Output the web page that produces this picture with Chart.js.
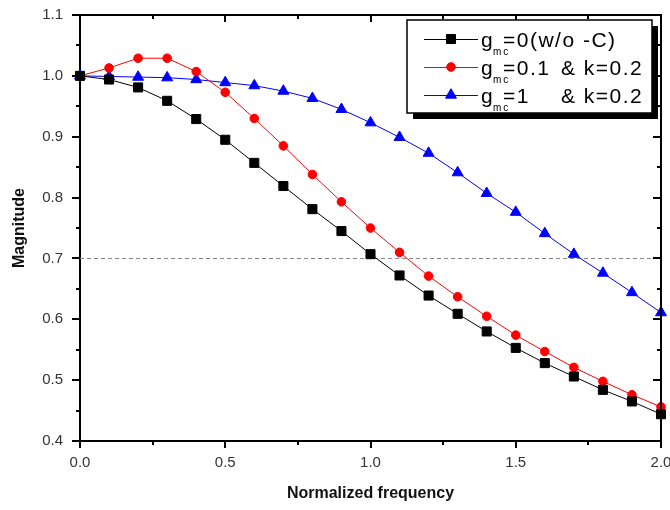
<!DOCTYPE html>
<html>
<head>
<meta charset="utf-8">
<script src="https://cdn.jsdelivr.net/npm/chart.js@4"></script>
<style>
  body { margin: 0; background: #fff; }
  #wrap { width: 670px; height: 510px; }
</style>
</head>
<body>
<div id="wrap"><canvas id="myChart" width="670" height="510"></canvas></div>
<script>
// data
var xValues = [0.0, 0.1, 0.2, 0.3, 0.4, 0.5, 0.6, 0.7, 0.8, 0.9, 1.0, 1.1, 1.2, 1.3, 1.4, 1.5, 1.6, 1.7, 1.8, 1.9, 2.0];
var noCap = [1.000, 0.994, 0.981, 0.959, 0.929, 0.895, 0.857, 0.819, 0.781, 0.745, 0.707, 0.672, 0.639, 0.609, 0.580, 0.553, 0.528, 0.506, 0.484, 0.465, 0.444];
var gmc01 = [1.000, 1.013, 1.029, 1.029, 1.007, 0.973, 0.930, 0.885, 0.838, 0.793, 0.750, 0.710, 0.671, 0.637, 0.605, 0.574, 0.547, 0.521, 0.498, 0.476, 0.456];
var gmc1 = [1.000, 0.999, 0.998, 0.997, 0.994, 0.989, 0.984, 0.975, 0.963, 0.945, 0.923, 0.899, 0.873, 0.841, 0.807, 0.776, 0.741, 0.707, 0.676, 0.644, 0.611];

// legend text: main letter, subscript, value part, tail part
var legendLabels = [
  ['g', 'mc', '=0(w/o -C)', ''],
  ['g', 'mc', '=0.1', '& k=0.2'],
  ['g', 'mc', '=1', '& k=0.2']
];
var xTicks = [0, 0.5, 1.0, 1.5, 2.0];
var yTicks = [0.4, 0.5, 0.6, 0.7, 0.8, 0.9, 1.0, 1.1];
var refLevel = 0.7;

function pairs(ys) {
  return ys.map((y, i) => ({x: xValues[i], y: y}));
}

const FONT = "'Liberation Sans', Arial, sans-serif";

// frame, extra ticks, dashed line and legend
const frame = {
  id: 'frame',
  beforeDatasetsDraw(chart) {
    const ctx = chart.ctx, a = chart.chartArea;
    const y = chart.scales.y.getPixelForValue(refLevel);
    ctx.save();
    ctx.strokeStyle = '#888';
    ctx.lineWidth = 1;
    ctx.setLineDash([4, 3]);
    ctx.beginPath();
    ctx.moveTo(a.left, Math.round(y) + 0.5);
    ctx.lineTo(a.right, Math.round(y) + 0.5);
    ctx.stroke();
    ctx.restore();
  },
  afterDatasetsDraw(chart) {
    const ctx = chart.ctx, a = chart.chartArea;
    const sx = chart.scales.x, sy = chart.scales.y;
    ctx.save();
    ctx.strokeStyle = '#000';
    ctx.lineWidth = 2;
    ctx.beginPath();
    ctx.moveTo(a.left, a.top);
    ctx.lineTo(a.right, a.top);
    ctx.lineTo(a.right, a.bottom);
    ctx.stroke();

    ctx.beginPath();
    // x ticks: bottom minor (outward), top major + minor (inward)
    for (let v = 0; v <= 2.0001; v += 0.25) {
      const px = Math.round(sx.getPixelForValue(v));
      const major = Math.abs(v * 2 - Math.round(v * 2)) < 1e-6;
      if (!major) {
        ctx.moveTo(px, a.bottom);
        ctx.lineTo(px, a.bottom + 4);
      }
      ctx.moveTo(px, a.top);
      ctx.lineTo(px, a.top + (major ? 7 : 4));
    }
    // y ticks: left minor (outward), right major + minor (inward)
    for (let k = 0; k <= 14; k++) {
      const v = 0.4 + k * 0.05;
      const py = Math.round(sy.getPixelForValue(v));
      const major = k % 2 === 0;
      if (!major) {
        ctx.moveTo(a.left, py);
        ctx.lineTo(a.left - 4, py);
      }
      ctx.moveTo(a.right, py);
      ctx.lineTo(a.right - (major ? 8 : 4), py);
    }
    ctx.stroke();

    // legend box with shadow
    const bx = 407, by = 20, bw = 245, bh = 93;
    ctx.fillStyle = '#000';
    ctx.fillRect(bx + 6, by + 6, bw, bh);
    ctx.fillStyle = '#fff';
    ctx.fillRect(bx, by, bw, bh);
    ctx.lineWidth = 1.5;
    ctx.strokeRect(bx, by, bw, bh);

    chart.data.datasets.forEach((ds, i) => {
      const cy = 39 + i * 28;
      ctx.strokeStyle = ds.borderColor;
      ctx.lineWidth = 1;
      ctx.beginPath();
      ctx.moveTo(424, cy + 0.5);
      ctx.lineTo(478, cy + 0.5);
      ctx.stroke();
      ctx.fillStyle = ds.pointBackgroundColor;
      ctx.strokeStyle = ds.pointBackgroundColor;
      Chart.helpers.drawPoint(ctx, {pointStyle: ds.pointStyle, radius: ds.pointRadius, borderWidth: 1}, 451, cy);
      const lab = legendLabels[i];
      ctx.fillStyle = '#000';
      ctx.textBaseline = 'alphabetic';
      ctx.textAlign = 'left';
      ctx.font = '21px ' + FONT;
      ctx.letterSpacing = '1.5px';
      ctx.fillText(lab[0], 481, cy + 8);
      ctx.font = '10px ' + FONT;
      ctx.letterSpacing = '2px';
      ctx.fillText(lab[1], 493, cy + 16);
      ctx.font = '21px ' + FONT;
      ctx.letterSpacing = '1.5px';
      ctx.fillText(lab[2], 503, cy + 8);
      if (lab[3]) ctx.fillText(lab[3], 561, cy + 8);
      ctx.letterSpacing = '0px';
    });
    ctx.restore();
  }
};

new Chart('myChart', {
  type: 'line',
  data: {
    datasets: [{
      data: pairs(noCap),
      borderColor: '#000',
      pointBackgroundColor: '#000',
      pointBorderColor: '#000',
      pointStyle: 'rect',
      pointRadius: 6.4
    }, {
      data: pairs(gmc01),
      borderColor: '#ff0000',
      pointBackgroundColor: '#ff0000',
      pointBorderColor: '#ff0000',
      pointStyle: 'circle',
      pointRadius: 4.3
    }, {
      data: pairs(gmc1),
      borderColor: '#0000ff',
      pointBackgroundColor: '#0000ff',
      pointBorderColor: '#0000ff',
      pointStyle: 'triangle',
      pointRadius: 6.3
    }]
  },
  options: {
    responsive: false,
    animation: false,
    layout: {padding: {top: 15, right: 9, left: 0, bottom: 0}},
    elements: {
      line: {borderWidth: 1, tension: 0},
      point: {borderWidth: 1}
    },
    datasets: {line: {clip: false}},
    plugins: {
      legend: {display: false},
      tooltip: {enabled: false}
    },
    scales: {
      x: {
        type: 'linear',
        min: 0, max: 2,
        afterBuildTicks: s => { s.ticks = xTicks.map(v => ({value: v})); },
        afterFit: s => { s.height = 69; s.paddingLeft = 0; s.paddingRight = 0; },
        ticks: {
          callback: v => v.toFixed(1),
          color: '#333',
          padding: 6,
          maxRotation: 0,
          font: {family: FONT, size: 15}
        },
        grid: {drawOnChartArea: false, color: '#000', lineWidth: 2, tickLength: 7},
        border: {color: '#000', width: 2},
        title: {
          display: true,
          text: 'Normalized frequency',
          color: '#111',
          padding: {top: 0, bottom: 7},
          font: {family: FONT, size: 16, weight: 'bold'}
        }
      },
      y: {
        min: 0.4, max: 1.1,
        afterBuildTicks: s => { s.ticks = yTicks.map(v => ({value: v})); },
        afterFit: s => { s.width = 80; s.paddingTop = 0; s.paddingBottom = 0; },
        ticks: {
          callback: v => v.toFixed(1),
          color: '#333',
          padding: 9,
          font: {family: FONT, size: 15}
        },
        grid: {drawOnChartArea: false, color: '#000', lineWidth: 2, tickLength: 8},
        border: {color: '#000', width: 2},
        title: {
          display: true,
          text: 'Magnitude',
          color: '#111',
          padding: {top: 10, bottom: 0},
          font: {family: FONT, size: 16, weight: 'bold'}
        }
      }
    }
  },
  plugins: [frame]
});
</script>
</body>
</html>
